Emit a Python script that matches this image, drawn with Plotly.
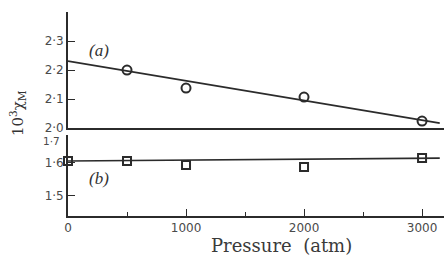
import plotly.graph_objects as go

# Data
pressure_a = [500, 1000, 2000, 3000]
chi_a = [2.200, 2.138, 2.107, 2.024]
fit_a_x = [0, 3150]
fit_a_y = [2.231, 2.017]

pressure_b = [0, 500, 1000, 2000, 3000]
chi_b = [1.606, 1.606, 1.594, 1.588, 1.615]
fit_b_x = [0, 3150]
fit_b_y = [1.606, 1.615]

x_tickvals = [0, 1000, 2000, 3000]
x_ticktext = ["0", "1000", "2000", "3000"]
ya_tickvals = [2.0, 2.1, 2.2, 2.3]
ya_ticktext = ["2·0", "2·1", "2·2", "2·3"]
yb_tickvals = [1.5, 1.6]
yb_ticktext = ["1·5", "1·6"]

ink = "#2b2b2b"
tickfont = dict(family="DejaVu Sans", size=12, color="#4a4a4a")

fig = go.Figure()
fig.add_trace(go.Scatter(x=fit_a_x, y=fit_a_y, mode="lines", line=dict(color=ink, width=1.7),
                         xaxis="x2", yaxis="y2", showlegend=False))
fig.add_trace(go.Scatter(x=pressure_a, y=chi_a, mode="markers",
                         marker=dict(symbol="circle-open", size=9, color=ink, line=dict(width=2)),
                         xaxis="x2", yaxis="y2", showlegend=False, cliponaxis=False))
fig.add_trace(go.Scatter(x=fit_b_x, y=fit_b_y, mode="lines", line=dict(color=ink, width=1.7),
                         xaxis="x", yaxis="y", showlegend=False))
fig.add_trace(go.Scatter(x=pressure_b, y=chi_b, mode="markers",
                         marker=dict(symbol="square-open", size=8, color=ink, line=dict(width=2)),
                         xaxis="x", yaxis="y", showlegend=False, cliponaxis=False))

xrange = [0, 3186]
fig.update_layout(
    width=444, height=255,
    margin=dict(l=68, r=0, t=12, b=39, autoexpand=False),
    paper_bgcolor="white", plot_bgcolor="white",
    xaxis=dict(domain=[0, 1], anchor="y", range=xrange, showgrid=False, zeroline=False,
               automargin=False,
               showline=True, linecolor=ink, linewidth=1.7,
               tickmode="array", tickvals=x_tickvals, ticktext=x_ticktext,
               ticks="inside", ticklen=7, tickwidth=1.2, tickcolor=ink, tickfont=tickfont,
               minor=dict(tickvals=[500, 1500, 2500], ticks="inside", ticklen=4,
                          tickwidth=1.2, tickcolor=ink, showgrid=False)),
    yaxis=dict(domain=[0, 0.397], anchor="x", range=[1.439, 1.685], showgrid=False,
               zeroline=False, showline=True, linecolor=ink, linewidth=1.7, mirror=True,
               automargin=False,
               tickmode="array", tickvals=yb_tickvals, ticktext=yb_ticktext,
               ticks="inside", ticklen=7, tickwidth=1.2, tickcolor=ink, tickfont=tickfont),
    xaxis2=dict(domain=[0, 1], anchor="y2", range=xrange, showgrid=False, zeroline=False,
                automargin=False,
                showline=True, linecolor=ink, linewidth=1.7, showticklabels=False, ticks=""),
    yaxis2=dict(domain=[0.431, 1], anchor="x2", range=[2.0, 2.4], showgrid=False,
                zeroline=False, showline=True, linecolor=ink, linewidth=1.7,
                automargin=False,
                tickmode="array", tickvals=ya_tickvals, ticktext=ya_ticktext,
                ticks="inside", ticklen=7, tickwidth=1.2, tickcolor=ink, tickfont=tickfont),
    annotations=[
        dict(text="Pressure  (atm)", x=281, y=245, showarrow=False,
             font=dict(family="DejaVu Serif", size=18, color="#3a3a3a")),
        dict(text="10<sup>3</sup>χ<sub>M</sub>", x=17, y=113, textangle=-90,
             showarrow=False, font=dict(family="DejaVu Serif", size=15, color="#333")),
        dict(text="<i>(a)</i>", x=99, y=50, showarrow=False,
             font=dict(family="Liberation Serif", size=17, color="#333")),
        dict(text="<i>(b)</i>", x=99, y=178, showarrow=False,
             font=dict(family="Liberation Serif", size=17, color="#333")),
        dict(text="1·7", x=62, y=141, xanchor="right", showarrow=False,
             font=dict(family="DejaVu Sans", size=10.5, color="#4a4a4a")),
    ],
)

# Convert pixel positions of annotations to paper coordinates
W, H = 444, 255
l, r, t, b = 68, 0, 12, 39
pw, ph = W - l - r, H - t - b
for ann in fig.layout.annotations:
    ann.xref = "paper"
    ann.yref = "paper"
    ann.yanchor = "middle"
    if ann.xanchor is None:
        ann.xanchor = "center"
    ann.x = (ann.x - l) / pw
    ann.y = (H - b - ann.y) / ph

fig.write_html("out.html", config={"displayModeBar": False},
               post_script="document.body.style.margin='0';")
